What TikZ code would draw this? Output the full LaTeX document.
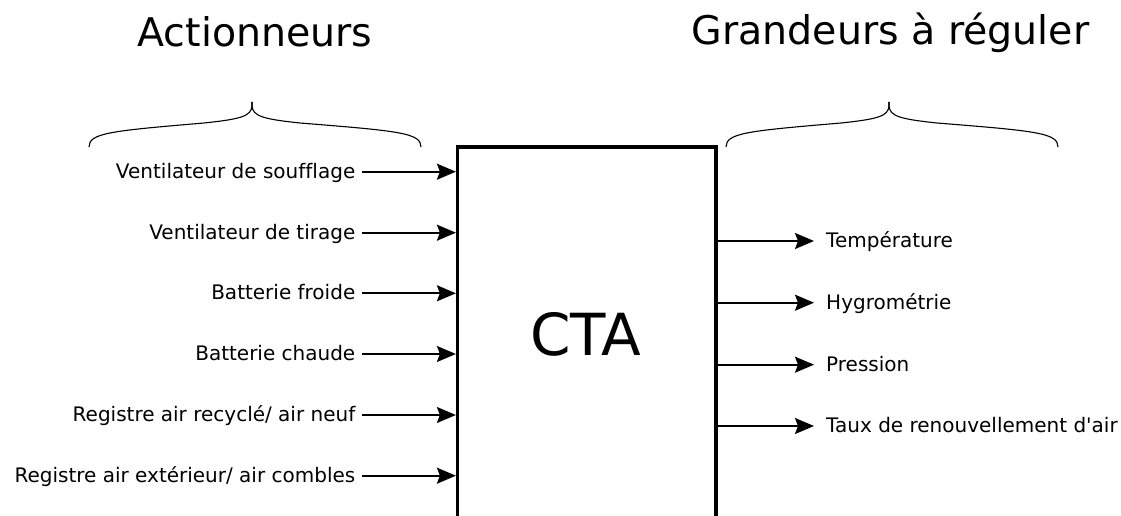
\documentclass[tikz,border=0pt]{standalone}
\usepackage{fontspec}
\setmainfont{DejaVu Sans}[Ligatures={NoCommon}]
\usetikzlibrary{arrows.meta}
\begin{document}
\begin{tikzpicture}[x=1pt,y=-1pt,
  small/.style={font=\fontsize{20}{23}\selectfont, text height=16pt, text depth=3pt, inner ysep=0pt},
  inlab/.style={small, anchor=east, inner xsep=6.5pt},
  outlab/.style={small, anchor=west, inner xsep=12pt},
  title/.style={font=\fontsize{39.5}{44}\selectfont, anchor=base, inner sep=0pt},
  arrhead/.tip={Stealth[length=19pt,width=16pt,inset=3pt]},
  arr/.style={line width=1.8pt, -arrhead},
  bracestyle/.style={line width=1.1pt},
  boxstyle/.style={draw, line width=3.2pt, minimum width=258.5pt, minimum height=413pt, inner sep=0pt}]
\useasboundingbox (0,0) rectangle (1121,516);
\clip (0,0) rectangle (1121,516);

% titles
\node[title] (t1) at (255,46.7) {Actionneurs};
\node[title] (t2) at (890.5,45) {Grandeurs à réguler};

% braces
\draw[bracestyle] (89,147) .. controls (89,133) and (110,131) .. (204,123) .. controls (242,119) and (251,116) .. (252,106) -- (252,102);
\draw[bracestyle] (252,102) -- (252,106) .. controls (253,116) and (262,119) .. (300,123) .. controls (400,131) and (421,133) .. (421,147);
\begin{scope}[xshift=637pt]
\draw[bracestyle] (89,147) .. controls (89,133) and (110,131) .. (204,123) .. controls (242,119) and (251,116) .. (252,106) -- (252,102);
\draw[bracestyle] (252,102) -- (252,106) .. controls (253,116) and (262,119) .. (300,123) .. controls (400,131) and (421,133) .. (421,147);
\end{scope}

% box
\node[boxstyle] (cta) at (586.75,353.5) {};
\node[font=\fontsize{58}{62}\selectfont, anchor=base, inner sep=0pt] (ctatext) at (586,355) {CTA};

% inputs
\node[inlab] (i1) at (362,171.7) {Ventilateur de soufflage};
\node[inlab] (i2) at (362,232.7) {Ventilateur de tirage};
\node[inlab] (i3) at (362,293.3) {Batterie froide};
\node[inlab] (i4) at (362,354) {Batterie chaude};
\node[inlab] (i5) at (362,415) {Registre air recyclé/ air neuf};
\node[inlab] (i6) at (362,475.7) {Registre air extérieur/ air combles};
\foreach \n in {i1,i2,i3,i4,i5,i6}
  \draw[arr] (\n.east) -- (\n.east -| cta.west);

% outputs
\node[outlab] (o1) at (814,241) {Température};
\node[outlab] (o2) at (814,302.7) {Hygrométrie};
\node[outlab] (o3) at (814,364.7) {Pression};
\node[outlab] (o4) at (814,426) {Taux de renouvellement d\textquotesingle air};
\foreach \n in {o1,o2,o3,o4}
  \draw[arr] (cta.east |- \n.west) -- (\n.west);
\end{tikzpicture}
\end{document}
